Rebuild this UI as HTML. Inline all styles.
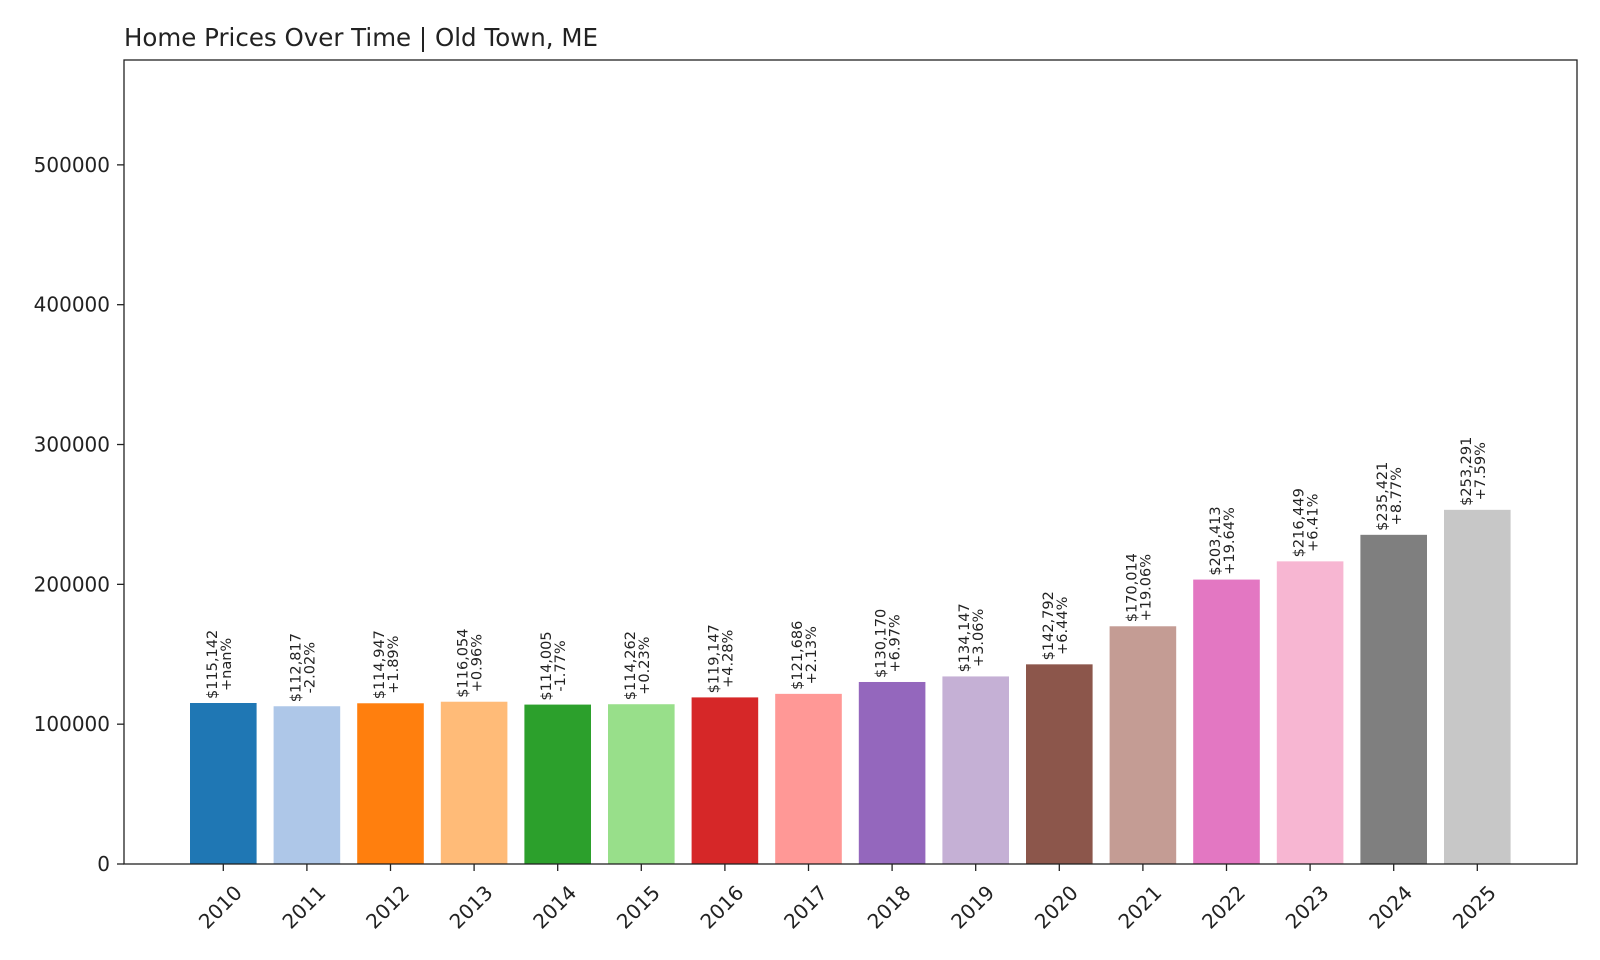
<!DOCTYPE html>
<html><head><meta charset="utf-8"><style>
body{margin:0;background:#fff;}
svg{display:block;font-family:"DejaVu Sans","Liberation Sans",sans-serif;}
</style></head><body>
<svg id="chart" width="1600" height="960" viewBox="0 0 1600 960">
<rect width="1600" height="960" fill="#fff"/>
<text x="124" y="46" font-size="24.5" fill="#222">Home Prices Over Time | Old Town, ME</text>
<g id="bars"></g><g id="yaxis"></g><g id="xaxis"></g><g id="labels"></g>
<rect x="124" y="60" width="1453" height="804" fill="none" stroke="#222" stroke-width="1.3"/>
</svg>
<script>
const years=["2010","2011","2012","2013","2014","2015","2016","2017","2018","2019","2020","2021","2022","2023","2024","2025"];
const prices=[115142,112817,114947,116054,114005,114262,119147,121686,130170,134147,142792,170014,203413,216449,235421,253291];
const changes=["+nan%","-2.02%","+1.89%","+0.96%","-1.77%","+0.23%","+4.28%","+2.13%","+6.97%","+3.06%","+6.44%","+19.06%","+19.64%","+6.41%","+8.77%","+7.59%"];
const yTicks=[0,100000,200000,300000,400000,500000];
const colors=["#1f77b4","#aec7e8","#ff7f0e","#ffbb78","#2ca02c","#98df8a","#d62728","#ff9896","#9467bd","#c5b0d5","#8c564b","#c49c94","#e377c2","#f7b6d2","#7f7f7f","#c7c7c7"];
const NS="http://www.w3.org/2000/svg";
const L=124,R=1577,T=60,B=864,YMAX=575000;
const y=v=>B-(v/YMAX)*(B-T);
const x=i=>223.3+i*83.6;
const bw=66.6;
function mk(t,a,p){const e=document.createElementNS(NS,t);for(const k in a)e.setAttribute(k,a[k]);p.appendChild(e);return e;}
const gb=document.getElementById('bars'),gy=document.getElementById('yaxis'),gx=document.getElementById('xaxis'),gl=document.getElementById('labels');
yTicks.forEach(v=>{
 const ln=mk('line',{x1:L-7,x2:L,y1:y(v),y2:y(v),stroke:'#222','stroke-width':1.3},gy);
 
 
 const t=mk('text',{x:L-14,y:y(v)+7,'text-anchor':'end','font-size':'20',fill:'#222'},gy);
 
 
 t.textContent=String(v);
});
years.forEach((yr,i)=>{
 const cx=x(i);
 const r=mk('rect',{x:cx-bw/2,y:y(prices[i]),width:bw,height:B-y(prices[i]),fill:colors[i]},gb);
 
 
 const tk=mk('line',{x1:cx,x2:cx,y1:B,y2:B+7,stroke:'#222','stroke-width':1.3},gx);
 
 
 const tl=mk('text',{transform:`translate(${cx-3},${907}) rotate(-45)`,'text-anchor':'middle','dominant-baseline':'central','font-size':'20',fill:'#222'},gx);
 
 
 tl.textContent=yr;
 const g=mk('g',{transform:`translate(${cx},${y(prices[i])-4}) rotate(-90)`},gl);
 
 
 const t1=mk('text',{x:0,y:-6.5,'text-anchor':'middle','font-size':'14.5',fill:'#222'},g);
 t1.textContent='$'+prices[i].toLocaleString('en-US');
 const t2=mk('text',{x:0,y:7.5,'text-anchor':'middle','font-size':'14.5',fill:'#222'},g);
 t2.textContent=changes[i];
 const w=Math.max(t1.getComputedTextLength(),t2.getComputedTextLength());
 t1.setAttribute('x',w/2);t2.setAttribute('x',w/2);
});
</script>
</body></html>
